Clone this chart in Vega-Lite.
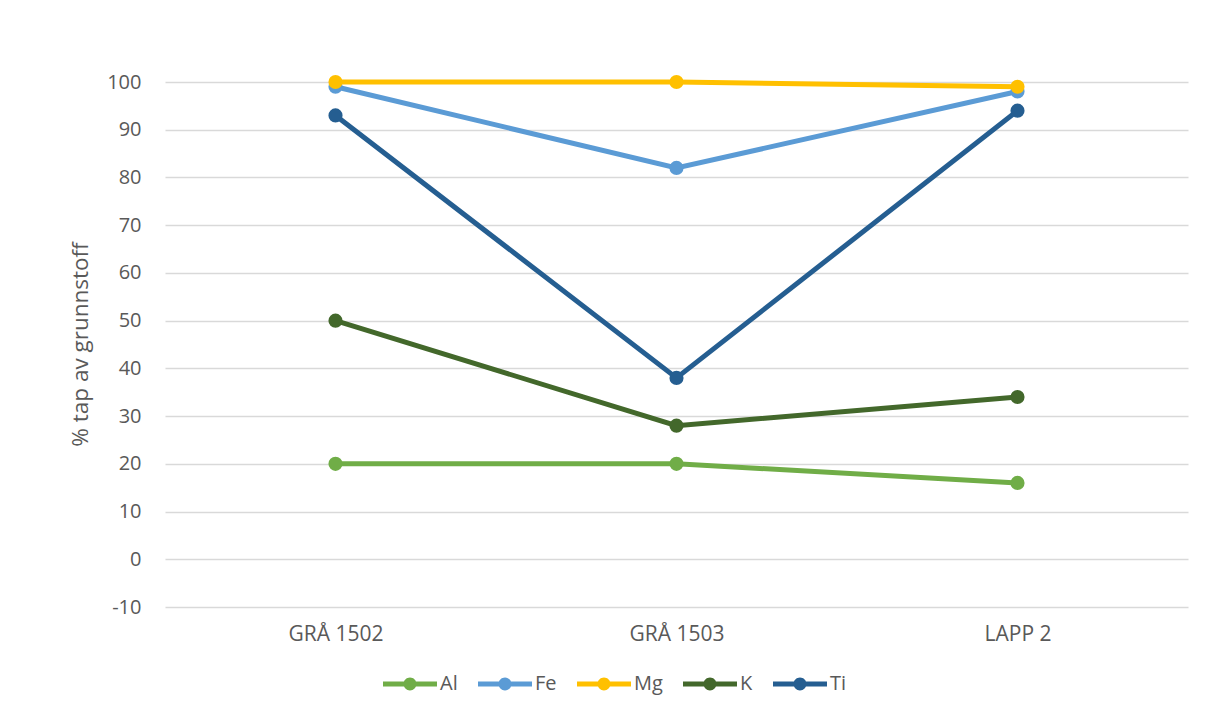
{
  "$schema": "https://vega.github.io/schema/vega-lite/v6.json",
  "width": 1023,
  "height": 525,
  "autosize": {"type": "none"},
  "padding": {"left": 165, "top": 82, "right": 32, "bottom": 106},
  "background": "white",
  "config": {
    "view": {"stroke": null},
    "font": "Open Sans",
    "axis": {"labelColor": "#595959", "labelFont": "Open Sans", "titleFont": "Open Sans", "titleColor": "#595959"},
    "legend": {"labelFont": "Open Sans"}
  },
  "data": {
    "values": [
      {"prøve": "GRÅ 1502", "grunnstoff": "Al", "tap": 20},
      {"prøve": "GRÅ 1503", "grunnstoff": "Al", "tap": 20},
      {"prøve": "LAPP 2", "grunnstoff": "Al", "tap": 16},
      {"prøve": "GRÅ 1502", "grunnstoff": "Fe", "tap": 99},
      {"prøve": "GRÅ 1503", "grunnstoff": "Fe", "tap": 82},
      {"prøve": "LAPP 2", "grunnstoff": "Fe", "tap": 98},
      {"prøve": "GRÅ 1502", "grunnstoff": "Mg", "tap": 100},
      {"prøve": "GRÅ 1503", "grunnstoff": "Mg", "tap": 100},
      {"prøve": "LAPP 2", "grunnstoff": "Mg", "tap": 99},
      {"prøve": "GRÅ 1502", "grunnstoff": "K", "tap": 50},
      {"prøve": "GRÅ 1503", "grunnstoff": "K", "tap": 28},
      {"prøve": "LAPP 2", "grunnstoff": "K", "tap": 34},
      {"prøve": "GRÅ 1502", "grunnstoff": "Ti", "tap": 93},
      {"prøve": "GRÅ 1503", "grunnstoff": "Ti", "tap": 38},
      {"prøve": "LAPP 2", "grunnstoff": "Ti", "tap": 94}
    ]
  },
  "encoding": {
    "x": {
      "field": "prøve",
      "type": "nominal",
      "sort": null,
      "scale": {"type": "point", "padding": 0.5},
      "axis": {"title": null, "labelAngle": 0, "labelFontSize": 21, "labelPadding": 16, "domain": false, "ticks": false, "grid": false}
    },
    "y": {
      "field": "tap",
      "type": "quantitative",
      "scale": {"domain": [-10, 100], "nice": false, "zero": false},
      "axis": {
        "title": "% tap av grunnstoff",
        "titleFontSize": 22.5,
        "titleFontWeight": "normal",
        "titleX": -85,
        "titleY": 262,
        "titleAlign": "center",
        "titleBaseline": "middle",
        "values": [-10, 0, 10, 20, 30, 40, 50, 60, 70, 80, 90, 100],
        "labelExpr": "'' + datum.value",
        "labelFontSize": 20,
        "labelPadding": 24,
        "domain": false,
        "ticks": false,
        "grid": true,
        "gridColor": "#d9d9d9",
        "gridWidth": 1.3
      }
    },
    "color": {
      "field": "grunnstoff",
      "type": "nominal",
      "sort": ["Al", "Fe", "Mg", "K", "Ti"],
      "scale": {
        "domain": ["Al", "Fe", "Mg", "K", "Ti"],
        "range": ["#70ad47", "#5b9bd5", "#ffc000", "#43682b", "#255e91"]
      },
      "legend": {
        "title": null,
        "orient": "none",
        "direction": "horizontal",
        "legendX": 218,
        "legendY": 575,
        "symbolType": "M-1,-0.09H1V0.09H-1Z M-0.24,0A0.24,0.24 0 1,1 0.24,0A0.24,0.24 0 1,1 -0.24,0Z",
        "symbolSize": 2916,
        "symbolStrokeWidth": 0,
        "labelFontSize": 20,
        "labelColor": "#595959",
        "labelOffset": 3,
        "columnPadding": 20,
        "encode": {
          "symbols": {"update": {"fill": {"scale": "color", "field": "value"}, "strokeWidth": {"value": 0}, "opacity": {"value": 1}}}
        }
      }
    }
  },
  "layer": [
    {"mark": {"type": "line", "strokeWidth": 5}},
    {"mark": {"type": "circle", "size": 200, "opacity": 1}}
  ]
}
